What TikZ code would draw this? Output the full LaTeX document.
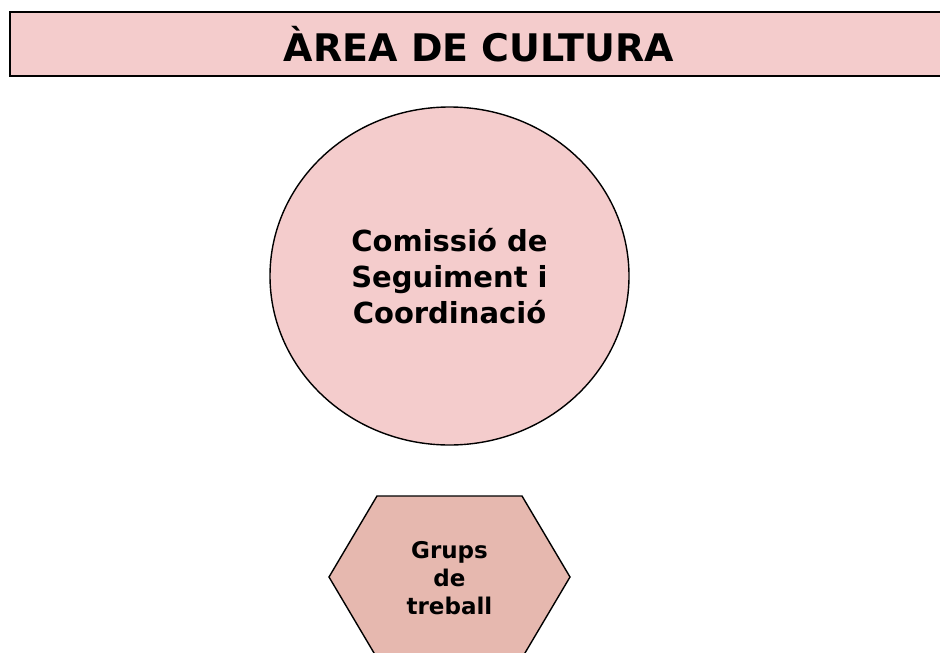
\documentclass[tikz,border=0pt]{standalone}
\usepackage{fontspec}
\setmainfont{DejaVu Sans}
\usepackage{xcolor}
\usetikzlibrary{shapes.geometric}
\definecolor{rosa}{HTML}{F4CCCC}
\definecolor{rosafosc}{HTML}{E6B8AF}

\begin{document}
\begin{tikzpicture}[x=1pt,y=-1pt,
    titol/.style = {draw, line width=2pt, fill=rosa},
    main/.style = {draw, ellipse, line width=1.4pt, fill=rosa, inner sep=0pt,
                   minimum width=359pt, minimum height=338pt, align=center,
                   font=\fontsize{29}{36}\selectfont\bfseries},
    hexa/.style = {draw, line width=1.4pt, fill=rosafosc}]
      \useasboundingbox (0,0) rectangle (940,653);
      \fill[white] (0,0) rectangle (940,653);

      \draw[titol] (10,12) rectangle (945,76);
      \node (titol) at (479,44) {\fontsize{38}{44}\selectfont\bfseries ÀREA DE CULTURA};

      \node[main] (comissio) at (449.5,276) {Comissió de\\Seguiment i\\Coordinació};

      \draw[hexa] (377,496) -- (522,496) -- (570,577) -- (522,658)
                  -- (377,658) -- (329,577) -- cycle;
      \node[align=center, font=\fontsize{23}{28}\selectfont\bfseries]
            (grups) at (449.5,578) {Grups\\de\\treball};
    \end{tikzpicture}
\end{document}
